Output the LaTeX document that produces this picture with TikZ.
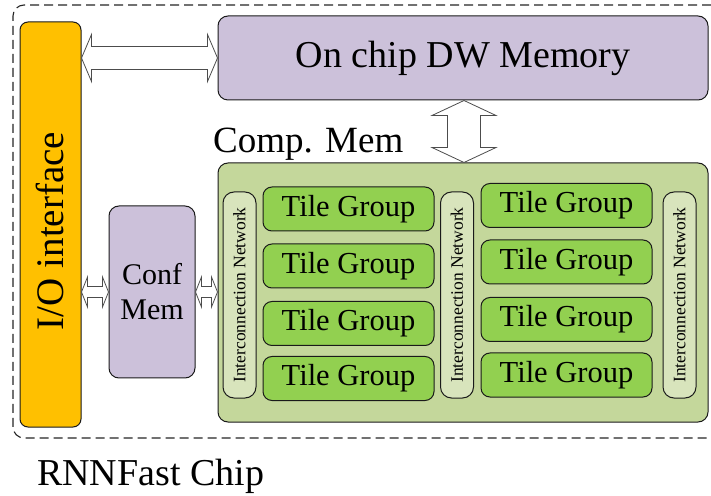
\documentclass[tikz,border=0pt]{standalone}
\usepackage{fontspec}
\setmainfont{Liberation Serif}
\usetikzlibrary{calc}
\definecolor{ioorange}{HTML}{FFC000}
\definecolor{memlav}{HTML}{CCC1DA}
\definecolor{compgreen}{HTML}{C4D79B}
\definecolor{tilegreen}{HTML}{92D050}
\definecolor{icgreen}{HTML}{D8E4BC}
\definecolor{edgecol}{HTML}{1A1A1A}
\tikzset{
  blk/.style={draw=edgecol, line width=1pt, rounded corners=9pt, inner sep=0pt, align=center},
  tile/.style={blk, fill=tilegreen, minimum width=171pt, minimum height=44pt, font=\fontsize{30.5}{32}\selectfont},
  icnet/.style={blk, fill=icgreen, minimum width=33pt, minimum height=206pt, rounded corners=11pt},
  ictext/.style={rotate=90, font=\fontsize{17.5}{19}\selectfont, inner sep=0pt},
  barrow/.style={draw=black!70, line width=0.8pt, fill=white, line join=miter},
  chipbox/.style={draw=black!85, line width=1.1pt, dash pattern=on 9pt off 5pt, rounded corners=11pt, minimum width=709pt, minimum height=433pt, inner sep=0pt},
}
% horizontal block double arrow: start, end, shaft half, head half, head length
\newcommand\hbarrow[5]{\draw[barrow] let \p1=#1, \p2=#2 in
  (\x1,\y1) -- (\x1+#5,\y1+#4) -- (\x1+#5,\y1+#3) -- (\x2-#5,\y2+#3) -- (\x2-#5,\y2+#4) -- (\x2,\y2)
  -- (\x2-#5,\y2-#4) -- (\x2-#5,\y2-#3) -- (\x1+#5,\y1-#3) -- (\x1+#5,\y1-#4) -- cycle;}
% vertical block double arrow: top, bottom, shaft half, head half, head length
\newcommand\vbarrow[5]{\draw[barrow] let \p1=#1, \p2=#2 in
  (\x1,\y1) -- (\x1+#4,\y1-#5) -- (\x1+#3,\y1-#5) -- (\x2+#3,\y2+#5) -- (\x2+#4,\y2+#5) -- (\x2,\y2)
  -- (\x2-#4,\y2+#5) -- (\x2-#3,\y2+#5) -- (\x1-#3,\y1-#5) -- (\x1-#4,\y1-#5) -- cycle;}
\begin{document}
\begin{tikzpicture}[x=1pt,y=1pt]
\useasboundingbox (0,0) rectangle (711,495);
\fill[white] (0,0) rectangle (711,495);
% chip outline
\node[chipbox] (chip) at (367.5,273.5) {};
\node[anchor=base west, inner sep=0pt, font=\fontsize{38}{40}\selectfont] (chiplabel) at (37,10) {RNNFast Chip};
% I/O interface
\node[blk, fill=ioorange, minimum width=61pt, minimum height=405pt, rounded corners=8pt] (io) at (50.5,270.5) {};
\node[rotate=90, inner sep=0pt, font=\fontsize{39}{42}\selectfont] (iotext) at (50,264) {I/O interface};
% DW memory
\node[blk, fill=memlav, minimum width=490pt, minimum height=84pt, rounded corners=10pt, font=\fontsize{38}{40}\selectfont] (dw) at (463,437) {\raisebox{-2pt}{On chip DW Memory}};
% Conf mem
\node[blk, fill=memlav, minimum width=86pt, minimum height=172pt, rounded corners=10pt, font=\fontsize{30}{35}\selectfont] (conf) at (152,203) {Conf\\Mem};
% Comp mem
\node[blk, fill=compgreen, minimum width=490pt, minimum height=259pt, rounded corners=10pt] (comp) at (463,202.5) {};
\node[anchor=base west, inner sep=0pt, font=\fontsize{37}{40}\selectfont] (complabel) at (213,342) {Comp. Mem};
% interconnects
\node[icnet] (ic1) at (239.5,200) {};
\node[ictext] at (ic1.center) {Interconnection Network};
\node[icnet] (ic2) at (457,200) {};
\node[ictext] at (ic2.center) {Interconnection Network};
\node[icnet] (ic3) at (679.5,200) {};
\node[ictext] at (ic3.center) {Interconnection Network};
% tiles
\node[tile] (t11) at (348.5,286) {Tile Group};
\node[tile] (t12) at (348.5,229) {Tile Group};
\node[tile] (t13) at (348.5,171.5) {Tile Group};
\node[tile] (t14) at (348.5,116.5) {Tile Group};
\node[tile] (t21) at (566.5,289.5) {Tile Group};
\node[tile] (t22) at (566.5,233) {Tile Group};
\node[tile] (t23) at (566.5,175.5) {Tile Group};
\node[tile] (t24) at (566.5,120) {Tile Group};
% arrows
\hbarrow{(io.east |- dw.west)}{(dw.west)}{11.5}{23.5}{10}
\hbarrow{(io.east |- conf.west)}{(conf.west)}{5.5}{15}{6}
\hbarrow{(conf.east)}{(comp.west |- conf.east)}{5.5}{15}{6}
\vbarrow{($(dw.south)+(1,0)$)}{($(comp.north)+(1,0)$)}{16.5}{32}{15}
\end{tikzpicture}
\end{document}
